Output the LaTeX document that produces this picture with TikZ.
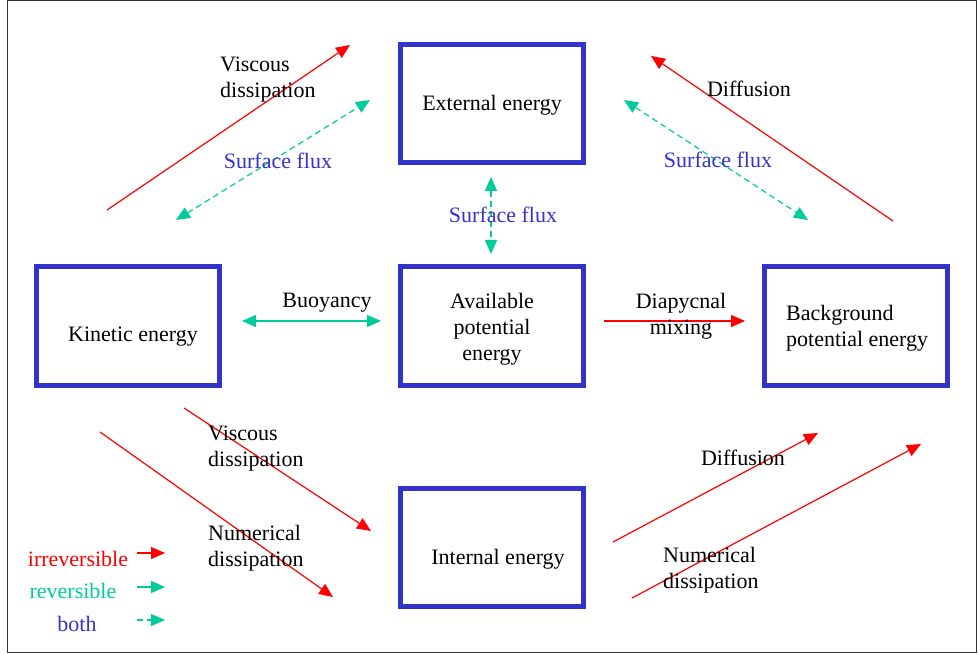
\documentclass[tikz,border=0pt]{standalone}
\usepackage{fontspec}
\setmainfont{Liberation Serif}
\newfontfamily\enfont{Liberation Serif}
\usetikzlibrary{arrows.meta}
\usetikzlibrary{positioning}
\definecolor{en-box}{HTML}{3333CC}
\definecolor{en-red}{HTML}{FF0000}
\definecolor{en-green}{HTML}{00CC99}
\definecolor{en-frame}{HTML}{333333}

\begin{document}
\begin{tikzpicture}[
    x=1pt, y=-1pt,
    >={Triangle[length=14pt, width=12pt]},
    every node/.style={font=\enfont\fontsize{22}{26}\selectfont, inner sep=0pt},
    box/.style={draw=en-box, line width=5pt, minimum width=183pt,
                minimum height=118pt, align=center},
    irrev/.style={->, draw=en-red, line width=1.2pt},
    rev/.style={<->, draw=en-green, line width=1.2pt},
    both/.style={<->, draw=en-green, line width=1.2pt, dash pattern=on 6pt off 4pt},
    label/.style={text=black, align=left},
    flux/.style={text=en-box}
]

% =========================================================================
% MOLDURA
% =========================================================================
\useasboundingbox (0,0) rectangle (978,655);
\draw[en-frame, line width=1pt] (7.5,0.5) rectangle (976.5,652.5);

% =========================================================================
% CAIXAS DE ENERGIA
% =========================================================================
\node[box] (ext) at (491.5,104) {};
\node[box] (kin) at (128,326) {};
\node[box] (ape) at (491.5,326) {};
\node[box] (bpe) at (855.5,326) {};
\node[box] (int) at (491.5,547.5) {};

\node at (492,105) {External energy};
\node at (133,337) {Kinetic energy};
\node[align=center] at (492,329) {Available\\potential\\energy};
\node[align=left, anchor=west] at (786,328) {Background\\potential energy};
\node at (498,559) {Internal energy};

% =========================================================================
% EXTREMIDADES DAS SETAS
% =========================================================================
\coordinate (viscA) at (107,210);  \coordinate (viscB) at (350,45);
\coordinate (sfLA)  at (176,220);  \coordinate (sfLB)  at (370,100);
\coordinate (difA)  at (893,221);  \coordinate (difB)  at (651,56);
\coordinate (sfRA)  at (624,100);  \coordinate (sfRB)  at (808,220);
\coordinate (sfCA)  at (491,177);  \coordinate (sfCB)  at (491,254);
\coordinate (buoA)  at (242,321);  \coordinate (buoB)  at (381,321);
\coordinate (diaA)  at (604,321);  \coordinate (diaB)  at (745,321);
\coordinate (vdiA)  at (184,408);  \coordinate (vdiB)  at (371,531);
\coordinate (ndiA)  at (100,432);  \coordinate (ndiB)  at (333,597);
\coordinate (dinA)  at (613,542);  \coordinate (dinB)  at (818,433);
\coordinate (nrA)   at (632,598);  \coordinate (nrB)   at (921,444);

% =========================================================================
% SETAS
% =========================================================================
\draw[irrev] (viscA) -- (viscB);
\draw[both]  (sfLA) -- (sfLB);
\draw[irrev] (difA) -- (difB);
\draw[both]  (sfRA) -- (sfRB);
\draw[both]  (sfCA) -- (sfCB);
\draw[rev]   (buoA) -- (buoB);
\draw[irrev] (diaA) -- (diaB);
\draw[irrev] (vdiA) -- (vdiB);
\draw[irrev] (ndiA) -- (ndiB);
\draw[irrev] (dinA) -- (dinB);
\draw[irrev] (nrA) -- (nrB);

% =========================================================================
% RÓTULOS
% =========================================================================
\node[label, anchor=west] (lvisc) at (220,80) {Viscous\\dissipation};
\node[flux] (lsfL) at (278,161) {Surface flux};
\node (ldif) at (749,89) {Diffusion};
\node[flux] (lsfR) at (718,160) {Surface flux};
\node[flux] (lsfC) at (503,215) {Surface flux};
\node (lbuo) at (327,303) {Buoyancy};
\node[align=center] (ldia) at (681,316) {Diapycnal\\mixing};
\node[label, anchor=west] (lvdi) at (208,449) {Viscous\\dissipation};
\node[label, anchor=west] (lndi) at (208,548) {Numerical\\dissipation};
\node (ldin) at (743,458) {Diffusion};
\node[label, anchor=west] (lnr) at (663,570) {Numerical\\dissipation};

% =========================================================================
% LEGENDA
% =========================================================================
\node[text=en-red] (kirr) at (78,559) {irreversible};
\node[text=en-green] (krev) at (73,591) {reversible};
\node[text=en-box] (kboth) at (77,624) {both};
\coordinate (kirrA) at (137,553);  \coordinate (kirrB) at (165,553);
\coordinate (krevA) at (137,587);  \coordinate (krevB) at (165,587);
\coordinate (kbotA) at (137,620);  \coordinate (kbotB) at (165,620);
\draw[irrev] (kirrA) -- (kirrB);
\draw[rev, -{Triangle[length=14pt, width=12pt]}] (krevA) -- (krevB);
\draw[both, -{Triangle[length=14pt, width=12pt]}] (kbotA) -- (kbotB);

\end{tikzpicture}
\end{document}
